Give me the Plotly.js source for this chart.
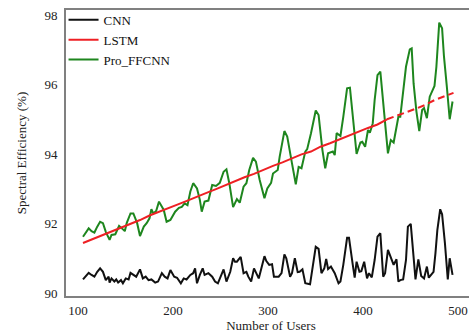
<!DOCTYPE html>
<html>
<head>
<meta charset="utf-8">
<script src="https://cdn.plot.ly/plotly-3.0.1.min.js"></script>
<style>
html,body{margin:0;padding:0;overflow:hidden;background:#fff;}
#chart{width:476px;height:333px;}
</style>
</head>
<body>
<div id="chart"></div>
<script>
// ---- Data ----
const seriesNames = ["CNN", "LSTM", "Pro_FFCNN"];

const cnnUsers = [100,106,109,112,115,118,121,124,127,128,130,133,135,137,140,142,145,148,150,153,156,160,163,166,169,172,176,179,183,186,189,192,196,199,203,206,209,213,216,218,220,223,226,228,232,236,239,242,246,248,251,255,258,260,262,266,269,272,274,277,280,282,285,291,293,296,299,301,306,309,312,314,318,320,323,326,328,331,334,339,345,348,351,354,356,358,361,365,369,371,374,378,380,384,386,388,391,393,396,399,401,404,407,410,413,416,418,421,424,427,430,432,434,437,440,442,445,448,450,453,456,459,462,464,469,471,473,476,478,481,484,486,489];
const cnnEff = [90.39,90.58,90.52,90.47,90.61,90.71,90.61,90.37,90.47,90.30,90.42,90.33,90.39,90.30,90.37,90.28,90.42,90.39,90.58,90.52,90.47,90.68,90.42,90.47,90.37,90.39,90.30,90.33,90.57,90.47,90.42,90.66,90.47,90.44,90.28,90.42,90.39,90.52,90.57,90.71,90.28,90.52,90.71,90.52,90.57,90.47,90.33,90.28,90.57,90.68,90.33,90.61,91.00,90.90,90.90,91.04,90.57,90.61,90.47,90.33,90.71,90.61,90.42,91.06,90.92,90.81,90.83,90.47,90.47,90.57,91.11,91.00,90.47,90.57,91.00,90.60,90.61,90.68,90.28,90.25,91.33,91.27,90.57,90.71,90.98,90.69,90.76,90.57,90.28,90.33,90.81,91.59,91.59,90.81,90.44,90.90,90.61,90.63,90.90,90.42,90.57,90.45,90.95,91.62,91.72,90.47,90.57,91.24,91.04,90.81,90.97,90.33,90.37,90.39,90.95,91.91,91.99,91.04,90.39,90.97,90.49,90.42,90.76,90.44,90.61,91.14,91.81,92.41,92.27,91.43,90.39,91.00,90.52];

const lstmUsers = [100,110,120,130,140,150,160,170,180,190,200,210,220,230,240,250,260,270,280,290,300,310,320,330,340,350,360,370,380,390,400,410,420];
const lstmEff = [91.44,91.55,91.66,91.76,91.88,92.00,92.10,92.23,92.33,92.43,92.55,92.66,92.78,92.88,92.99,93.11,93.21,93.33,93.43,93.55,93.66,93.76,93.88,93.99,94.07,94.21,94.31,94.42,94.53,94.66,94.75,94.85,95.00];
const lstmUsersTail = [420,430,440,450,460,470,480,490];
const lstmEffTail = [95.00,95.09,95.20,95.30,95.41,95.55,95.66,95.76];

const proUsers = [100,106,109,112,115,118,121,124,128,130,134,138,141,144,146,150,153,157,160,164,167,170,172,174,177,180,185,188,192,197,201,204,207,210,213,216,220,223,225,228,232,236,240,244,248,251,254,258,262,265,269,272,275,279,282,286,291,294,298,300,305,307,312,315,320,324,327,330,334,336,340,345,348,352,355,358,363,365,367,371,374,378,381,385,388,392,394,397,400,402,405,407,410,413,416,419,421,424,427,430,432,434,437,440,444,446,448,451,454,457,459,462,465,468,470,472,475,478,480,483,486,489];
const proEff = [91.62,91.86,91.78,91.74,91.91,92.05,92.01,91.76,91.53,91.67,91.69,91.93,91.86,91.78,92.01,92.29,92.29,92.01,91.64,91.91,92.01,92.15,92.41,92.29,92.36,92.63,92.39,92.05,92.10,92.34,92.45,92.48,92.58,92.53,92.92,93.16,93.01,92.68,92.34,92.63,92.66,93.11,93.08,93.17,93.49,93.56,93.16,92.47,92.70,92.60,93.06,93.16,93.54,93.89,93.78,93.25,92.73,93.01,93.17,93.44,93.54,93.92,94.66,94.50,93.73,93.13,93.63,93.59,94.07,94.14,94.60,95.25,95.12,94.12,93.59,94.02,94.07,93.97,94.60,94.52,95.07,95.89,95.91,94.79,94.00,94.33,94.35,94.21,94.69,94.61,94.88,95.55,96.27,96.37,95.36,94.60,94.02,94.40,94.33,94.79,95.07,95.07,95.75,96.51,97.01,97.04,96.03,95.22,94.66,95.27,95.32,95.03,95.65,95.86,95.96,96.51,97.78,97.62,96.80,95.94,95.00,95.51];

const xTicks = [100, 200, 300, 400, 500];
const yTicks = [90, 92, 94, 96, 98];

// ---- Styles ----
const FONT = '"Liberation Serif", "Times New Roman", serif';
const traces = [
  {x: cnnUsers, y: cnnEff, name: seriesNames[0], mode: "lines", legendrank: 1,
   line: {color: "#111111", width: 2}},
  {x: proUsers, y: proEff, name: seriesNames[2], mode: "lines", legendrank: 3,
   line: {color: "rgb(30,134,30)", width: 2}},
  {x: lstmUsers, y: lstmEff, name: seriesNames[1], mode: "lines", legendrank: 2,
   line: {color: "rgb(238,32,36)", width: 2}},
  {x: lstmUsersTail, y: lstmEffTail, name: seriesNames[1], mode: "lines", showlegend: false,
   line: {color: "rgb(238,32,36)", width: 2, dash: "7px,4px"}}
];

const axisCommon = {
  showline: true, mirror: true, linecolor: "#808080", linewidth: 2,
  showgrid: false, zeroline: false,
  ticks: "outside", tickcolor: "rgba(0,0,0,0)",
  ticklabeloverflow: "allow",
  tickfont: {family: FONT, size: 13, color: "#222"}
};

const layout = {
  width: 476, height: 333,
  margin: {l: 66, r: 0, t: 10, b: 37},
  paper_bgcolor: "#fff", plot_bgcolor: "#fff",
  font: {family: FONT, size: 13, color: "#222"},
  showlegend: true,
  legend: {x: -0.006, y: 1.018, xanchor: "left", yanchor: "top",
           bgcolor: "rgba(0,0,0,0)", borderwidth: 0,
           font: {family: FONT, size: 13, color: "#111"}},
  xaxis: Object.assign({}, axisCommon, {
    range: [82.1, 513.7], tickvals: xTicks, ticklen: 1, ticklabelshift: -5,
    title: {text: "Number of Users", font: {family: FONT, size: 13, color: "#222"}, standoff: 2}
  }),
  yaxis: Object.assign({}, axisCommon, {
    range: [89.914, 98.144], tickvals: yTicks, ticklen: 4,
    title: {text: "Spectral Efficiency (%)", font: {family: FONT, size: 13, color: "#222"}, standoff: 15}
  })
};

Plotly.newPlot("chart", traces, layout, {staticPlot: true, displayModeBar: false});
</script>
</body>
</html>
